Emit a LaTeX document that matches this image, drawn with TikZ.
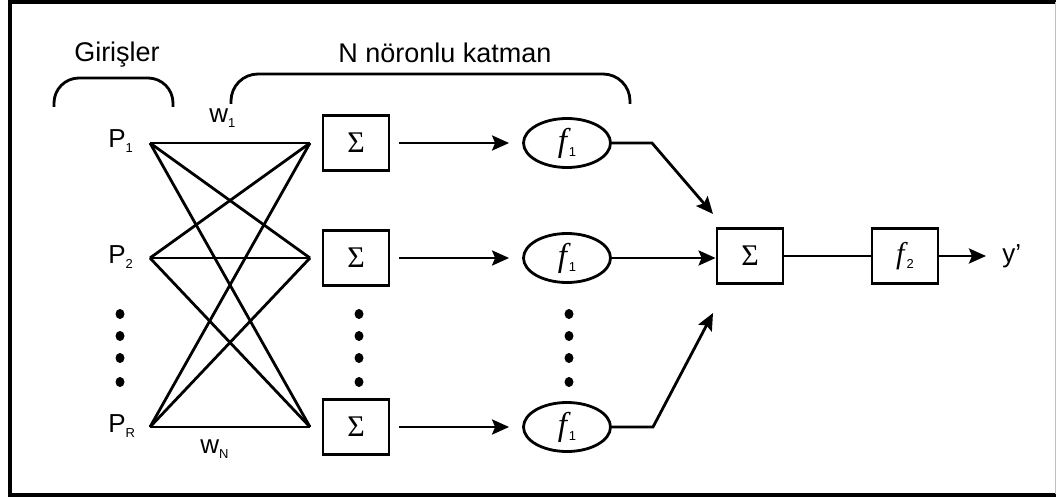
\documentclass[tikz,border=0pt]{standalone}
\usepackage{fontspec}
\setmainfont{Liberation Sans}
\newfontfamily\timesfont{Liberation Serif}
\usetikzlibrary{shapes.geometric,arrows.meta}
\newcommand{\lowsub}[1]{\raisebox{-5pt}{\normalfont\fontsize{13}{13}\selectfont #1}}
\begin{document}
\begin{tikzpicture}[x=1pt,y=-1pt,line width=2.8pt,line join=miter,>={Stealth[length=17pt,width=15pt,inset=3pt]}]
            \tikzset{sumbox/.style={draw,minimum width=66pt,minimum height=55pt,inner sep=0pt,font=\timesfont\fontsize{30}{30}\selectfont},
                actfun/.style={draw,ellipse,minimum width=87pt,minimum height=49pt,inner sep=0pt,font=\timesfont\fontsize{33}{33}\selectfont},
                lbl/.style={font=\fontsize{26}{26}\selectfont,inner sep=0pt}}
            \useasboundingbox (0,0) rectangle (1056,497);
            \draw[line width=4pt] (1056,2) -- (9.5,2) -- (9.5,494.5) -- (1056,494.5);
            \draw[line width=1pt,gray!50] (1055,2) -- (1055,494);
            \node[lbl,font=\fontsize{27}{27}\selectfont,anchor=base] (gir) at (117,62) {Girişler};
            \node[lbl,font=\fontsize{27}{27}\selectfont,anchor=base] (kat) at (445,63) {N nöronlu katman};
            \draw[rounded corners=25pt] (54,107) -- (54,78) -- (173,78) -- (173,107);
            \draw[rounded corners=27pt] (231,104) -- (231,74) -- (630,74) -- (630,104);
            \foreach \i/\y/\r in {1/143/1,2/258/2,3/427/R} {
                \coordinate (p\i) at (150,\y);
                \coordinate (q\i) at (310,\y);
                \node[lbl,anchor=base west] (P\i) at (107,\y+5) {P\lowsub{\r}};
            }
            \foreach \i in {1,2,3}
            \foreach \j in {1,2,3}
            \draw (p\i) -- (q\j);
            \node[lbl,anchor=base west] (w1) at (208,123) {w\lowsub{1}};
            \node[lbl,anchor=base west] (wN) at (199,453) {w\lowsub{N}};
            \foreach \i/\y in {1/143,2/258,3/427} {
                \node[sumbox] (s\i) at (356,\y) {Σ};
                \node[actfun] (a\i) at (567,\y) {\itshape f\kern2pt\lowsub{1}};
                \draw[->,shorten <=9pt,shorten >=13pt] (s\i.east) -- (a\i.west);
            }
            \foreach \x in {120,359,569}
            \foreach \y in {314,336,358,382}
            \fill (\x,\y) ellipse (4.5 and 5);
            \node[sumbox] (sum) at (750,256) {Σ};
            \node[sumbox] (out) at (905,256) {\itshape f\kern2pt\lowsub{2}};
            \node[lbl,anchor=base west] (y) at (1001,262) {y’};
            \coordinate (k1) at (652,143);
            \coordinate (t1) at (713,214);
            \coordinate (k3) at (653,427);
            \coordinate (t3) at (713,313);
            \draw[->] (a1.east) -- (k1) -- (t1);
            \draw[->] (a2.east) -- (a2.east -| sum.west);
            \draw[->] (a3.east) -- (k3) -- (t3);
            \draw (sum.east) -- (out.west);
            \draw[->,shorten >=15pt] (out.east) -- (out.east -| y.west);
        \end{tikzpicture}
\end{document}
